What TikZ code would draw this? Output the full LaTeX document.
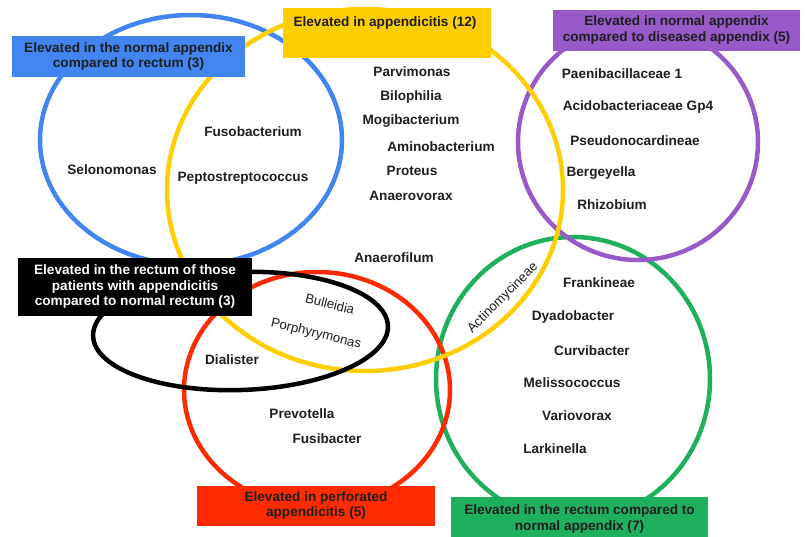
\documentclass[tikz,border=0pt]{standalone}
\usepackage{fontspec}
\setmainfont{Liberation Sans}
\usepackage{tikz}
\definecolor{vblue}{RGB}{66,133,240}
\definecolor{vyellow}{RGB}{255,206,0}
\definecolor{vpurple}{RGB}{152,90,200}
\definecolor{vred}{RGB}{255,42,0}
\definecolor{vgreen}{RGB}{30,176,92}
\definecolor{inkgray}{RGB}{30,30,30}
\tikzstyle{ring} = [line width=4.5pt]
\tikzstyle{taxon} = [font=\fontsize{13.6}{15.5}\selectfont\bfseries, text=inkgray, inner sep=0pt]
\tikzstyle{plaintaxon} = [font=\fontsize{13.2}{15}\selectfont, text=inkgray, inner sep=0pt]
\tikzstyle{setbox} = [font=\fontsize{13.6}{15.5}\selectfont\bfseries, align=center, inner sep=0pt, text=inkgray]

\begin{document}
\begin{tikzpicture}[x=1pt, y=-1pt]
    \useasboundingbox (0,0) rectangle (806,536);
    % the six sets
    \draw [ring, vgreen] (573,379) ellipse [x radius=137, y radius=142];
    \draw [ring, vred] (317,390) ellipse [x radius=133, y radius=118];
    \draw [ring, vpurple] (638,142) ellipse [x radius=120, y radius=118];
    \draw [ring, vblue] (191,140) ellipse [x radius=151, y radius=125];
    \draw [ring, vyellow] (365,190) ellipse [x radius=198, y radius=181];
    \draw [ring, black, rotate around={2:(240.5,331)}] (240.5,331) ellipse [x radius=147.5, y radius=59];
    % genera
    \node (selo) [taxon] at (112,170) {Selonomonas};
    \node (fuso) [taxon] at (253,132) {Fusobacterium};
    \node (pepto) [taxon] at (243,178) {Peptostreptococcus};
    \node (parvi) [taxon] at (412,72) {Parvimonas};
    \node (bilo) [taxon] at (411,97) {Bilophilia};
    \node (mogi) [taxon] at (411,121) {Mogibacterium};
    \node (amino) [taxon] at (441,147) {Aminobacterium};
    \node (prot) [taxon] at (412,171) {Proteus};
    \node (vorax) [taxon] at (411,196) {Anaerovorax};
    \node (filum) [taxon] at (394,258) {Anaerofilum};
    \node (paeni) [taxon] at (622,74) {Paenibacillaceae 1};
    \node (acido) [taxon] at (638,107) {Acidobacteriaceae Gp4};
    \node (pseudo) [taxon] at (635,141) {Pseudonocardineae};
    \node (berg) [taxon] at (601,173) {Bergeyella};
    \node (rhizo) [taxon] at (612,205) {Rhizobium};
    \node (bull) [plaintaxon, rotate=-14] at (330,304) {Bulleidia};
    \node (porph) [plaintaxon, rotate=-14] at (316,334) {Porphyrymonas};
    \node (dial) [taxon] at (232,360) {Dialister};
    \node (prev) [taxon] at (302,414) {Prevotella};
    \node (fusi) [taxon] at (327,439) {Fusibacter};
    \node (actino) [plaintaxon, rotate=45] at (503,298) {Actinomycineae};
    \node (frank) [taxon] at (599,283) {Frankineae};
    \node (dyado) [taxon] at (573,317) {Dyadobacter};
    \node (curvi) [taxon] at (592,351) {Curvibacter};
    \node (meli) [taxon] at (572,383) {Melissococcus};
    \node (vario) [taxon] at (577,416) {Variovorax};
    \node (lark) [taxon] at (555,449) {Larkinella};
    % set titles
    \node (bluebox) [setbox, fill=vblue, minimum width=233, minimum height=41] at (128.5,56.5)
        {Elevated in the normal appendix\\compared to rectum (3)};
    \node (yellowbox) [fill=vyellow, minimum width=208, minimum height=50] at (387,33) {};
    \node (yellowtext) [setbox] at (385,23) {Elevated in appendicitis (12)};
    \node (purplebox) [setbox, fill=vpurple, minimum width=247, minimum height=41] at (676.5,30)
        {Elevated in normal appendix\\compared to diseased appendix (5)};
    \node (blackbox) [setbox, fill=black, text=white, minimum width=234, minimum height=58] at (135,286.5)
        {Elevated in the rectum of those\\patients with appendicitis\\compared to normal rectum (3)};
    \node (redbox) [setbox, fill=vred, minimum width=238, minimum height=40] at (316,505.5)
        {Elevated in perforated\\appendicitis (5)};
    \node (greenbox) [setbox, fill=vgreen, minimum width=257, minimum height=44] at (579.5,519)
        {Elevated in the rectum compared to\\normal appendix (7)};
\end{tikzpicture}
\end{document}
